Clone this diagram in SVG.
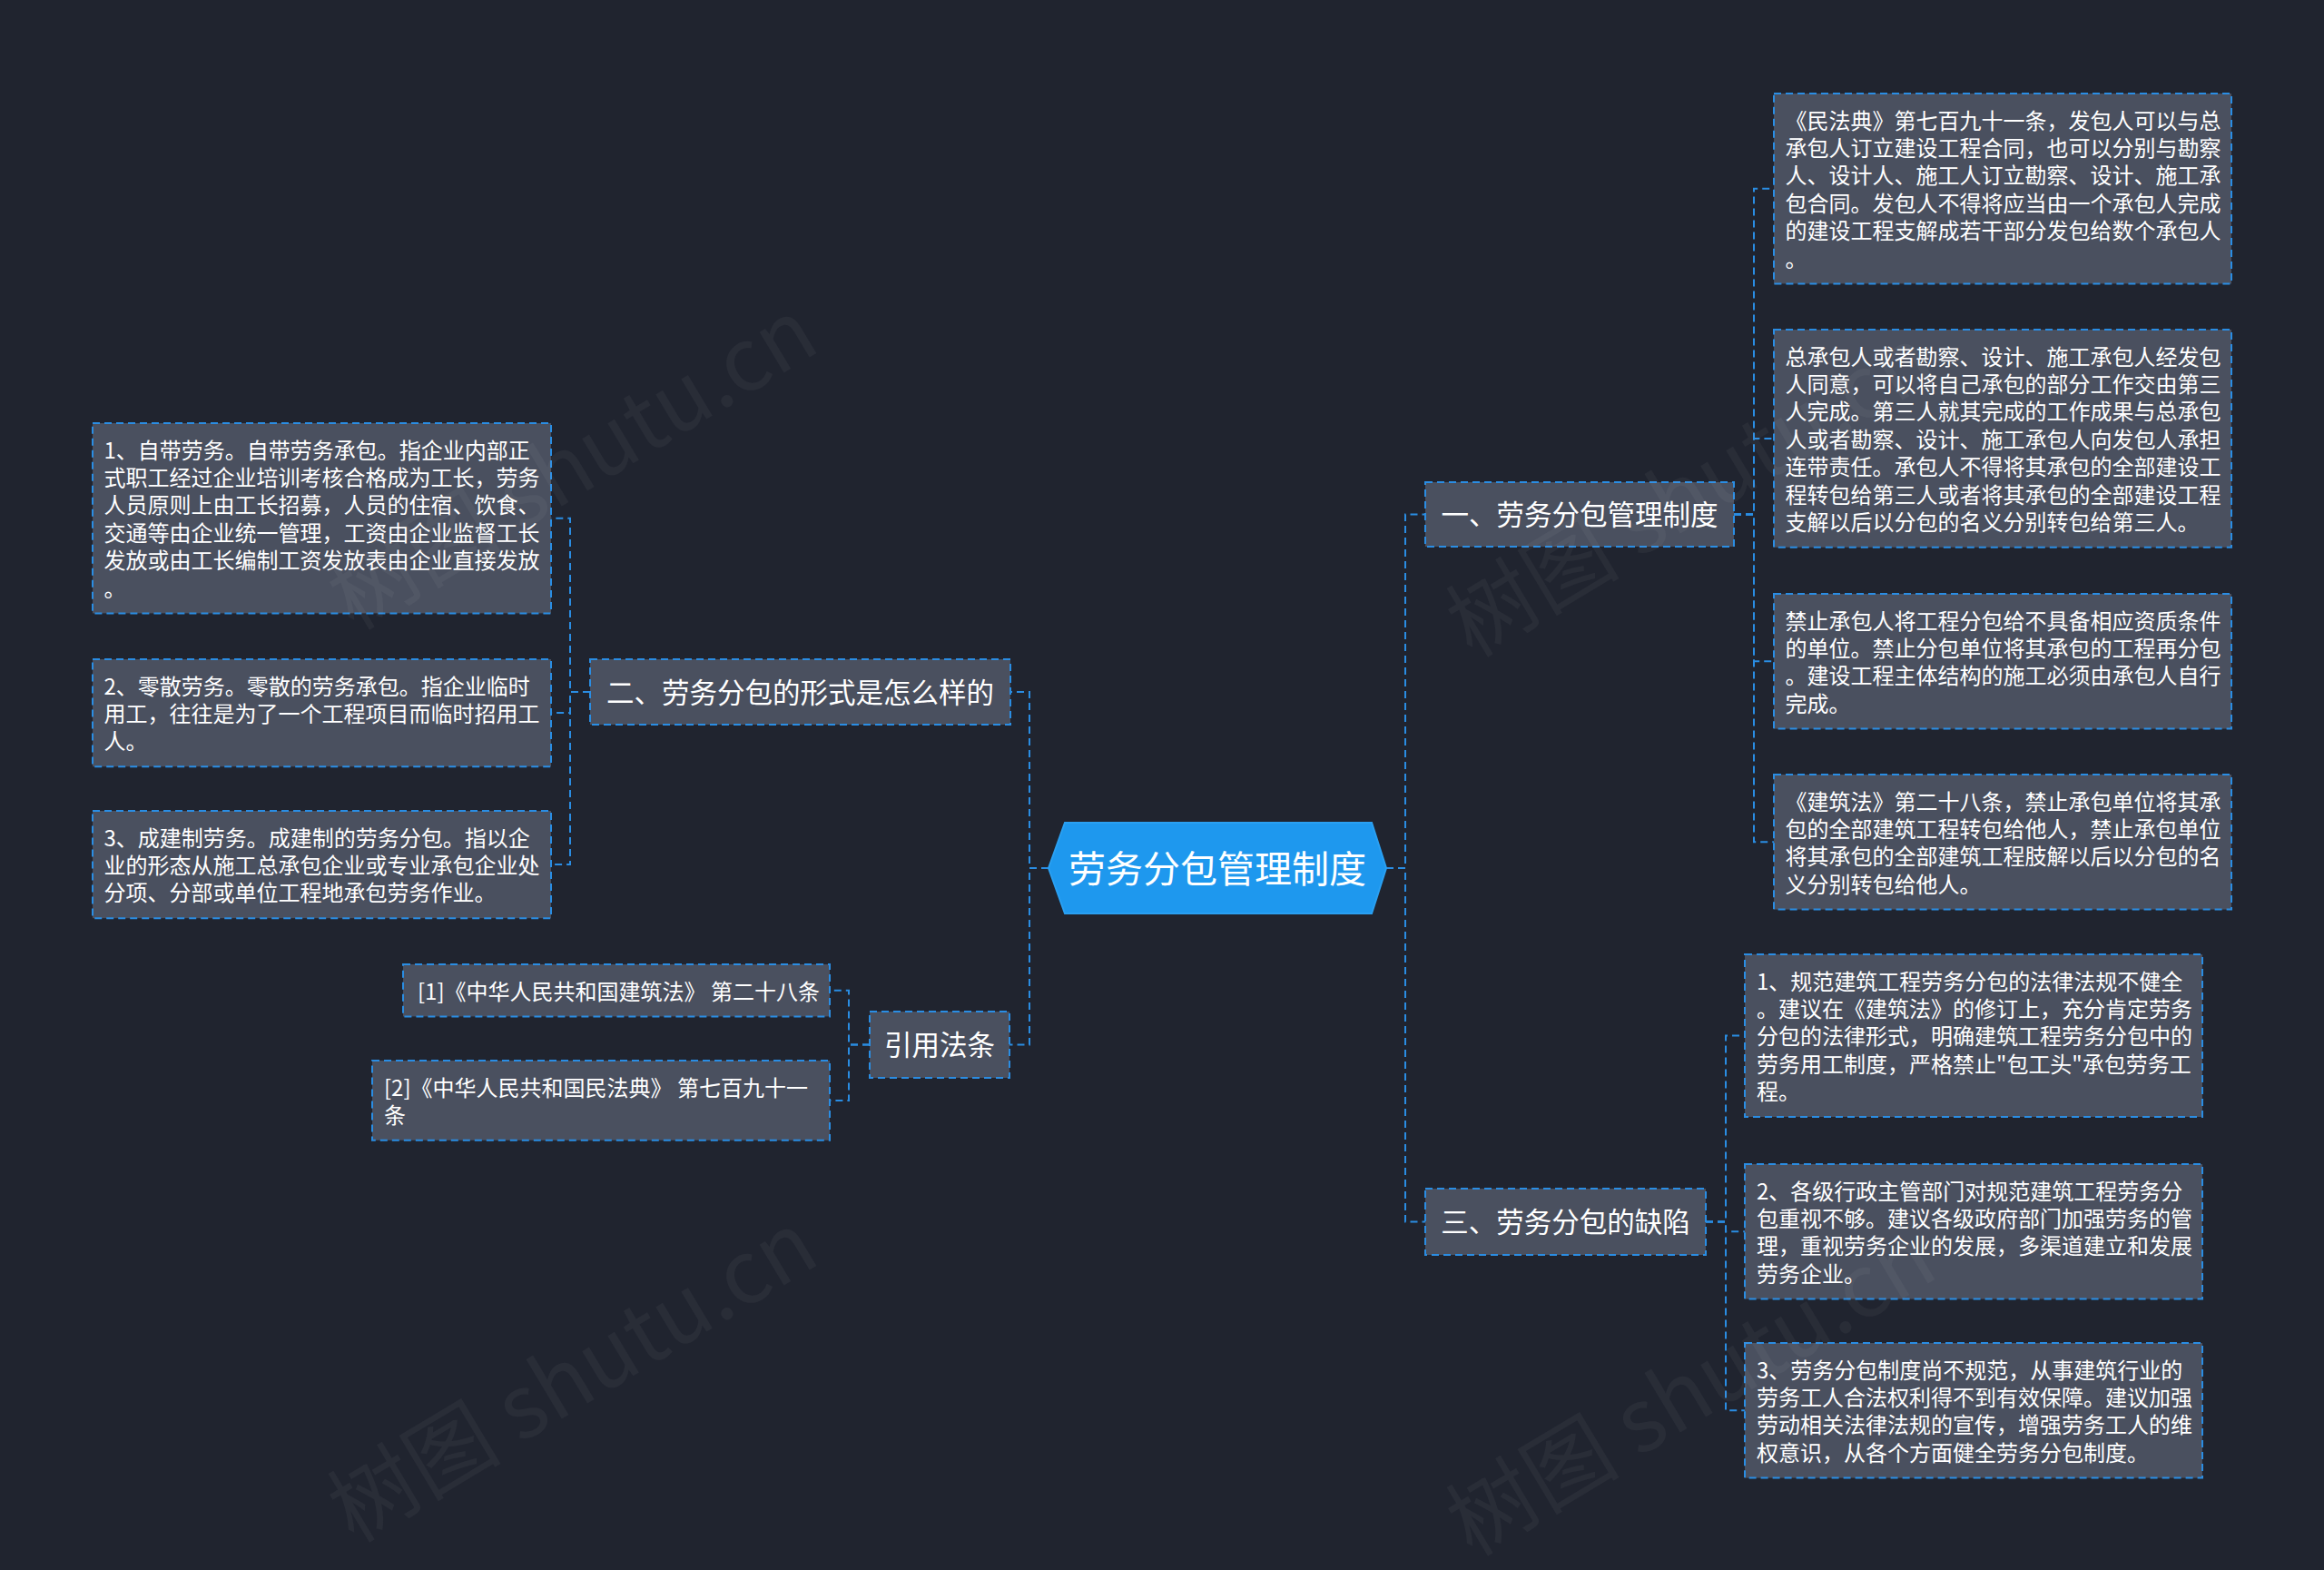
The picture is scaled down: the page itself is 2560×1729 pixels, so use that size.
<svg xmlns="http://www.w3.org/2000/svg" width="2560" height="1729" viewBox="0 0 2560 1729">
<style>
.bg{fill:#20242f}
.box{fill:#4a505f;stroke:#2a8de3;stroke-width:2;stroke-dasharray:8 5}
.edge{fill:none;stroke:#2a8de3;stroke-width:2;stroke-dasharray:8 5}
.t{font-family:"Noto Sans CJK SC","Noto Sans",sans-serif;fill:#ffffff}
.leaf{font-size:24px}
.br{font-size:30.5px;text-anchor:middle}
.root{font-size:41px;text-anchor:middle}
.wm{font-family:"Noto Sans CJK SC","Noto Sans",sans-serif;font-size:96px;fill:#ffffff;fill-opacity:0.045;text-anchor:middle}
</style>
<rect class="bg" x="0" y="0" width="2560" height="1729"/>

<g id="connectors">
<path class="edge" d="M1527,956 H1548 V566.5 H1570"/>
<path class="edge" d="M1527,956 H1548 V1345.5 H1570"/>
<path class="edge" d="M1910,566.5 H1932 V207.7 H1954"/>
<path class="edge" d="M1910,566.5 H1932 V482.9 H1954"/>
<path class="edge" d="M1910,566.5 H1932 V728.3 H1954"/>
<path class="edge" d="M1910,566.5 H1932 V927.3 H1954"/>
<path class="edge" d="M1879,1345.5 H1901 V1140.5 H1922"/>
<path class="edge" d="M1879,1345.5 H1901 V1356.3 H1922"/>
<path class="edge" d="M1879,1345.5 H1901 V1553.3 H1922"/>
<path class="edge" d="M1155,956 H1134 V762 H1113"/>
<path class="edge" d="M1155,956 H1134 V1150.5 H1112"/>
<path class="edge" d="M650,762 H628 V570.7 H607"/>
<path class="edge" d="M650,762 H628 V785.1 H607"/>
<path class="edge" d="M650,762 H628 V952.1 H607"/>
<path class="edge" d="M958,1150.5 H935 V1090.7 H914"/>
<path class="edge" d="M958,1150.5 H935 V1211.9 H914"/>
</g>

<g id="root">
<polygon points="1155,956 1173,906 1511,906 1527,956 1511,1006 1173,1006" fill="#1e98ee" stroke="#2aa0f2" stroke-width="2"/>
<text class="t root" x="1341" y="971.5">劳务分包管理制度</text>
</g>

<g id="b1">
<rect class="box" x="1570" y="531" width="340" height="71"/>
<text class="t br" x="1740" y="578">一、劳务分包管理制度</text>
</g>
<g id="b1-1">
<rect class="box" x="1954" y="103" width="504" height="209.4"/>
<text class="t leaf" x="1966.5" y="141.5"><tspan x="1966.5">《民法典》第七百九十一条，发包人可以与总</tspan><tspan x="1966.5" dy="30.4">承包人订立建设工程合同，也可以分别与勘察</tspan><tspan x="1966.5" dy="30.4">人、设计人、施工人订立勘察、设计、施工承</tspan><tspan x="1966.5" dy="30.4">包合同。发包人不得将应当由一个承包人完成</tspan><tspan x="1966.5" dy="30.4">的建设工程支解成若干部分发包给数个承包人</tspan><tspan x="1966.5" dy="30.4">。</tspan></text>
</g>
<g id="b1-2">
<rect class="box" x="1954" y="363" width="504" height="239.8"/>
<text class="t leaf" x="1966.5" y="401.5"><tspan x="1966.5">总承包人或者勘察、设计、施工承包人经发包</tspan><tspan x="1966.5" dy="30.4">人同意，可以将自己承包的部分工作交由第三</tspan><tspan x="1966.5" dy="30.4">人完成。第三人就其完成的工作成果与总承包</tspan><tspan x="1966.5" dy="30.4">人或者勘察、设计、施工承包人向发包人承担</tspan><tspan x="1966.5" dy="30.4">连带责任。承包人不得将其承包的全部建设工</tspan><tspan x="1966.5" dy="30.4">程转包给第三人或者将其承包的全部建设工程</tspan><tspan x="1966.5" dy="30.4">支解以后以分包的名义分别转包给第三人。</tspan></text>
</g>
<g id="b1-3">
<rect class="box" x="1954" y="654" width="504" height="148.6"/>
<text class="t leaf" x="1966.5" y="692.5"><tspan x="1966.5">禁止承包人将工程分包给不具备相应资质条件</tspan><tspan x="1966.5" dy="30.4">的单位。禁止分包单位将其承包的工程再分包</tspan><tspan x="1966.5" dy="30.4">。建设工程主体结构的施工必须由承包人自行</tspan><tspan x="1966.5" dy="30.4">完成。</tspan></text>
</g>
<g id="b1-4">
<rect class="box" x="1954" y="853" width="504" height="148.6"/>
<text class="t leaf" x="1966.5" y="891.5"><tspan x="1966.5">《建筑法》第二十八条，禁止承包单位将其承</tspan><tspan x="1966.5" dy="30.4">包的全部建筑工程转包给他人，禁止承包单位</tspan><tspan x="1966.5" dy="30.4">将其承包的全部建筑工程肢解以后以分包的名</tspan><tspan x="1966.5" dy="30.4">义分别转包给他人。</tspan></text>
</g>

<g id="b3">
<rect class="box" x="1570" y="1309" width="309" height="73"/>
<text class="t br" x="1724.5" y="1357">三、劳务分包的缺陷</text>
</g>
<g id="b3-1">
<rect class="box" x="1922" y="1051" width="504" height="179"/>
<text class="t leaf" x="1935" y="1089.5"><tspan x="1935">1、规范建筑工程劳务分包的法律法规不健全</tspan><tspan x="1935" dy="30.4">。建议在《建筑法》的修订上，充分肯定劳务</tspan><tspan x="1935" dy="30.4">分包的法律形式，明确建筑工程劳务分包中的</tspan><tspan x="1935" dy="30.4">劳务用工制度，严格禁止"包工头"承包劳务工</tspan><tspan x="1935" dy="30.4">程。</tspan></text>
</g>
<g id="b3-2">
<rect class="box" x="1922" y="1282" width="504" height="148.6"/>
<text class="t leaf" x="1935" y="1320.5"><tspan x="1935">2、各级行政主管部门对规范建筑工程劳务分</tspan><tspan x="1935" dy="30.4">包重视不够。建议各级政府部门加强劳务的管</tspan><tspan x="1935" dy="30.4">理，重视劳务企业的发展，多渠道建立和发展</tspan><tspan x="1935" dy="30.4">劳务企业。</tspan></text>
</g>
<g id="b3-3">
<rect class="box" x="1922" y="1479" width="504" height="148.6"/>
<text class="t leaf" x="1935" y="1517.5"><tspan x="1935">3、劳务分包制度尚不规范，从事建筑行业的</tspan><tspan x="1935" dy="30.4">劳务工人合法权利得不到有效保障。建议加强</tspan><tspan x="1935" dy="30.4">劳动相关法律法规的宣传，增强劳务工人的维</tspan><tspan x="1935" dy="30.4">权意识，从各个方面健全劳务分包制度。</tspan></text>
</g>

<g id="b2">
<rect class="box" x="650" y="726" width="463" height="72"/>
<text class="t br" x="881.5" y="773.6">二、劳务分包的形式是怎么样的</text>
</g>
<g id="b2-1">
<rect class="box" x="102" y="466" width="505" height="209.4"/>
<text class="t leaf" x="114.5" y="504.5"><tspan x="114.5">1、自带劳务。自带劳务承包。指企业内部正</tspan><tspan x="114.5" dy="30.4">式职工经过企业培训考核合格成为工长，劳务</tspan><tspan x="114.5" dy="30.4">人员原则上由工长招募，人员的住宿、饮食、</tspan><tspan x="114.5" dy="30.4">交通等由企业统一管理，工资由企业监督工长</tspan><tspan x="114.5" dy="30.4">发放或由工长编制工资发放表由企业直接发放</tspan><tspan x="114.5" dy="30.4">。</tspan></text>
</g>
<g id="b2-2">
<rect class="box" x="102" y="726" width="505" height="118.2"/>
<text class="t leaf" x="114.5" y="764.5"><tspan x="114.5">2、零散劳务。零散的劳务承包。指企业临时</tspan><tspan x="114.5" dy="30.4">用工，往往是为了一个工程项目而临时招用工</tspan><tspan x="114.5" dy="30.4">人。</tspan></text>
</g>
<g id="b2-3">
<rect class="box" x="102" y="893" width="505" height="118.2"/>
<text class="t leaf" x="114.5" y="931.5"><tspan x="114.5">3、成建制劳务。成建制的劳务分包。指以企</tspan><tspan x="114.5" dy="30.4">业的形态从施工总承包企业或专业承包企业处</tspan><tspan x="114.5" dy="30.4">分项、分部或单位工程地承包劳务作业。</tspan></text>
</g>

<g id="b4">
<rect class="box" x="958" y="1114" width="154" height="73"/>
<text class="t br" x="1035" y="1162">引用法条</text>
</g>
<g id="b4-1">
<rect class="box" x="444" y="1062" width="470" height="57.4"/>
<text class="t leaf" x="460" y="1100.5">[1]《中华人民共和国建筑法》 第二十八条</text>
</g>
<g id="b4-2">
<rect class="box" x="410" y="1168" width="504" height="87.8"/>
<text class="t leaf" x="423" y="1206.5"><tspan x="423">[2]《中华人民共和国民法典》 第七百九十一</tspan><tspan x="423" dy="30.4">条</tspan></text>
</g>

<g id="watermarks">
<text class="wm" transform="translate(648,540) rotate(-31)">树图 shutu.cn</text>
<text class="wm" transform="translate(648,1545) rotate(-31)">树图 shutu.cn</text>
<text class="wm" transform="translate(1880,570) rotate(-31)">树图 shutu.cn</text>
<text class="wm" transform="translate(1880,1560) rotate(-31)">树图 shutu.cn</text>
</g>
</svg>
